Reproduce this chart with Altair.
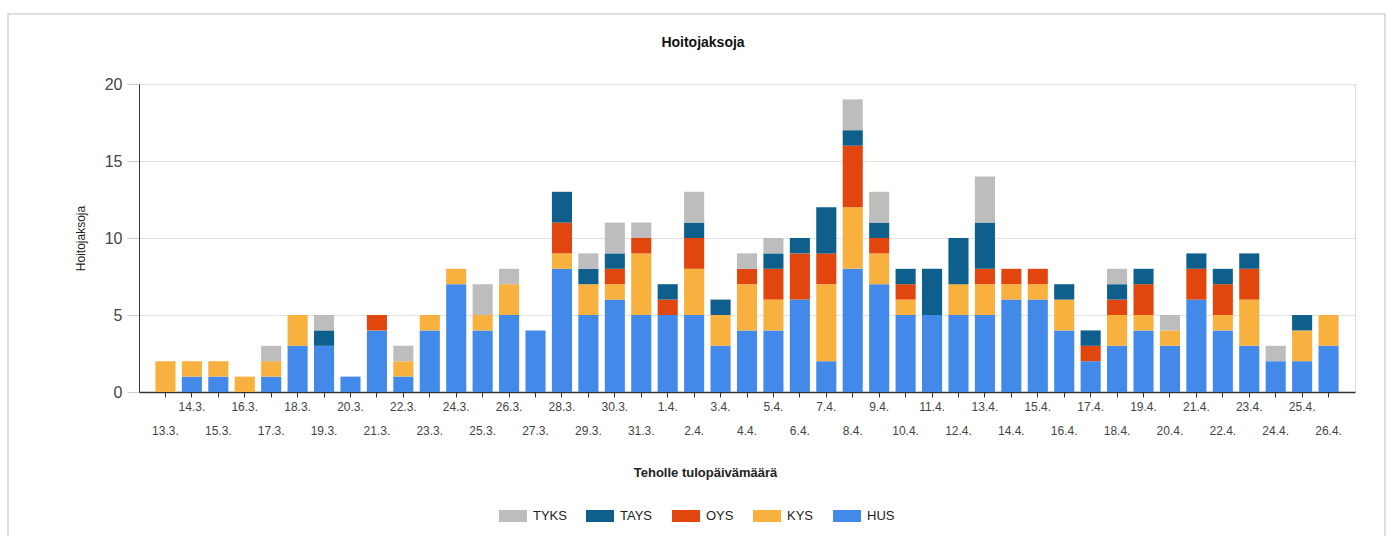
import altair as alt
import pandas as pd

# Saapumispäivät 13.3.–26.4.
paivat = [f"{d}.3." for d in range(13, 32)] + [f"{d}.4." for d in range(1, 27)]

# Hoitojaksot sairaaloittain (sama järjestys kuin paivat)
HUS = [0, 1, 1, 0, 1, 3, 3, 1, 4, 1, 4, 7, 4, 5, 4, 8, 5, 6, 5,
       5, 5, 3, 4, 4, 6, 2, 8, 7, 5, 5, 5, 5, 6, 6, 4, 2, 3, 4, 3, 6, 4, 3, 2, 2, 3]
KYS = [2, 1, 1, 1, 1, 2, 0, 0, 0, 1, 1, 1, 1, 2, 0, 1, 2, 1, 4,
       0, 3, 2, 3, 2, 0, 5, 4, 2, 1, 0, 2, 2, 1, 1, 2, 0, 2, 1, 1, 0, 1, 3, 0, 2, 2]
OYS = [0, 0, 0, 0, 0, 0, 0, 0, 1, 0, 0, 0, 0, 0, 0, 2, 0, 1, 1,
       1, 2, 0, 1, 2, 3, 2, 4, 1, 1, 0, 0, 1, 1, 1, 0, 1, 1, 2, 0, 2, 2, 2, 0, 0, 0]
TAYS = [0, 0, 0, 0, 0, 0, 1, 0, 0, 0, 0, 0, 0, 0, 0, 2, 1, 1, 0,
        1, 1, 1, 0, 1, 1, 3, 1, 1, 1, 3, 3, 3, 0, 0, 1, 1, 1, 1, 0, 1, 1, 1, 0, 1, 0]
TYKS = [0, 0, 0, 0, 1, 0, 1, 0, 0, 1, 0, 0, 2, 1, 0, 0, 1, 2, 1,
        0, 2, 0, 1, 1, 0, 0, 2, 2, 0, 0, 0, 3, 0, 0, 0, 0, 1, 0, 1, 0, 0, 0, 1, 0, 0]

sairaalat = ["TYKS", "TAYS", "OYS", "KYS", "HUS"]
varit = ["#bdbdbd", "#0f5f8c", "#e2460f", "#f8b03e", "#4289ea"]
pinoj = {"HUS": 0, "KYS": 1, "OYS": 2, "TAYS": 3, "TYKS": 4}
sarjat = {"HUS": HUS, "KYS": KYS, "OYS": OYS, "TAYS": TAYS, "TYKS": TYKS}

rivit = []
for nimi, arvot in sarjat.items():
    for p, v in zip(paivat, arvot):
        if v > 0:
            rivit.append({"pvm": p, "sairaala": nimi, "lkm": v, "jarj": pinoj[nimi]})
df = pd.DataFrame(rivit)

FONT = "Liberation Sans"
W, H = 1216, 308
LEFT, TOP = 139, 84

# Joka toinen päivä alariville
lista = "[" + ",".join(f"'{p}'" for p in paivat) + "]"
label_expr = f"indexof({lista}, datum.value) % 2 == 1 ? [datum.value] : [' ', datum.value]"

palkit = alt.Chart(df).mark_bar().encode(
    x=alt.X(
        "pvm:O",
        sort=paivat,
        scale=alt.Scale(paddingInner=0.24, paddingOuter=0.62),
        axis=alt.Axis(
            title="Teholle tulopäivämäärä",
            labelAngle=0,
            labelExpr=label_expr,
            labelFontSize=12,
            labelColor="#444444",
            labelPadding=4,
            labelLineHeight=24,
            labelOverlap=False,
            labelFont=FONT,
            domainColor="#333333",
            domainWidth=1.5,
            tickColor="#333333",
            tickSize=5,
            titleFontSize=13,
            titleFontWeight="bold",
            titleFont=FONT,
            titleColor="#222222",
            titleX=566,
            titleY=80,
            titleAlign="center",
            titleBaseline="middle",
        ),
    ),
    y=alt.Y(
        "lkm:Q",
        stack="zero",
        scale=alt.Scale(domain=[0, 20]),
        axis=alt.Axis(
            title="Hoitojaksoja",
            values=[0, 5, 10, 15, 20],
            labelFontSize=16,
            labelColor="#444444",
            labelPadding=5,
            labelFont=FONT,
            tickSize=12,
            tickColor="#cccccc",
            domainColor="#333333",
            grid=True,
            gridColor="#e2e2e2",
            titleFontSize=12,
            titleFontWeight="normal",
            titleFont=FONT,
            titleColor="#222222",
            titleX=-59,
            titleY=154,
            titleAlign="center",
            titleBaseline="middle",
            titleAngle=270,
        ),
    ),
    color=alt.Color(
        "sairaala:N",
        scale=alt.Scale(domain=sairaalat, range=varit),
        legend=alt.Legend(
            title=None,
            orient="none",
            direction="horizontal",
            columns=5,
            legendX=360,
            legendY=418,
            symbolType="M-1,-0.43H1V0.43H-1Z",
            symbolSize=784,
            symbolStrokeWidth=0,
            symbolOpacity=1,
            labelFontSize=13,
            labelFont=FONT,
            labelColor="#222222",
            labelOffset=6,
            columnPadding=19,
        ),
    ),
    order=alt.Order("jarj:Q", sort="ascending"),
)

# Kaavion ympäröivä kehys
kehys = alt.Chart(pd.DataFrame({"k": [0]})).mark_rect(
    fill=None, stroke="#d4d4d4", strokeWidth=1.5
).encode(
    x=alt.value(8 - LEFT),
    x2=alt.value(1385 - LEFT),
    y=alt.value(14 - TOP),
    y2=alt.value(620 - TOP),
)

chart = alt.layer(kehys, palkit).properties(
    width=W,
    height=H,
    title=alt.TitleParams(
        "Hoitojaksoja",
        fontSize=14,
        fontWeight="bold",
        font=FONT,
        color="#111111",
        frame="group",
        offset=0,
        dx=-44,
        dy=37,
    ),
    autosize=alt.AutoSizeParams(type="none"),
    padding={"left": LEFT, "top": TOP, "right": 1395 - LEFT - W, "bottom": 536 - TOP - H},
).configure_view(stroke=None).configure(background="white")

chart.save("out.html", embed_options={"renderer": "svg", "actions": False})
